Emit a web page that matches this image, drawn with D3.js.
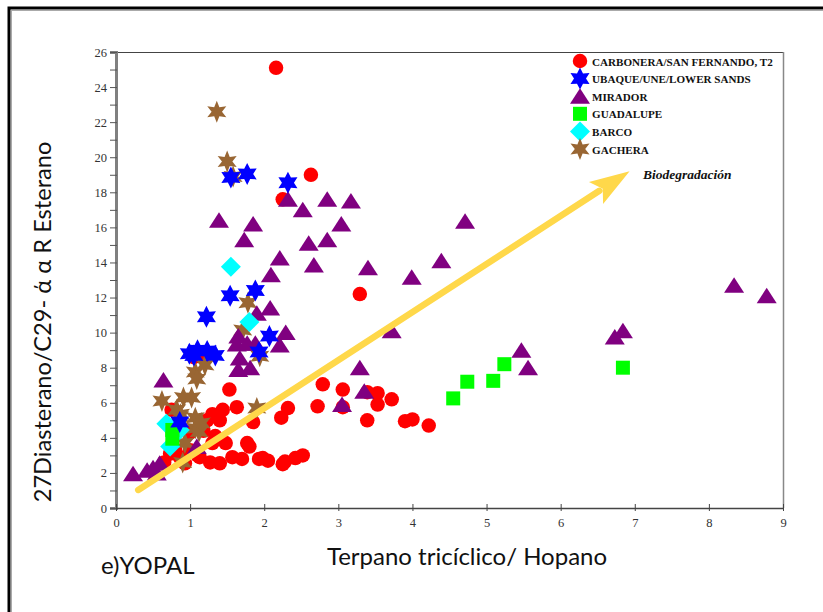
<!DOCTYPE html>
<html>
<head>
<meta charset="utf-8">
<script src="https://cdn.jsdelivr.net/npm/d3@7"></script>
<style>
  html, body { margin: 0; padding: 0; background: #fff; }
  svg { display: block; }
</style>
</head>
<body>
<svg id="chart" width="823" height="612"></svg>
<script>
// Series: [Terpano tricíclico/Hopano, 27Diasterano/C29 ααR Esterano]
const carbonera = [
  [2.16,25.1],[2.63,19.0],[2.25,17.6],[3.29,12.2],[2.79,7.05],[3.06,6.75],[3.39,6.6],[3.53,6.55],
  [2.72,5.8],[3.06,5.75],[3.53,5.9],[3.72,6.2],[3.39,5.0],[3.90,4.95],[4.00,5.05],[4.22,4.7],
  [2.52,3.0],[1.53,6.75],[1.63,5.75],[1.44,5.6],[1.30,5.35],[1.40,5.0],[1.23,5.0],[1.85,4.9],
  [2.32,5.7],[2.23,5.15],[1.16,4.75],[1.18,4.4],[1.34,4.1],[1.34,3.9],[1.48,3.7],[1.77,3.7],
  [1.80,3.5],[1.30,3.7],[0.73,3.1],[0.86,2.9],[1.13,2.9],[1.27,2.6],[1.40,2.55],[1.57,2.9],
  [1.70,2.8],[1.98,2.85],[2.05,2.7],[2.28,2.65],[2.42,2.85],[1.93,2.8],[1.05,8.6],[1.17,8.6],
  [0.75,5.6],[1.00,3.3],[0.93,2.55],[1.00,4.3],[1.10,3.0],[0.80,3.3],[2.25,2.5],[0.65,2.6]
];
const ubaque = [
  [1.55,18.85],[1.77,19.05],[2.32,18.55],[1.54,12.1],[1.88,12.4],[1.22,10.9],[2.07,9.8],
  [1.93,8.9],[0.99,8.8],[1.10,9.0],[1.23,8.95],[1.34,8.7],[1.05,8.7],[0.86,4.9]
];
const mirador = [
  [0.23,1.95],[0.42,2.15],[0.50,2.3],[0.59,2.55],[0.55,2.0],[0.64,7.3],[1.09,3.5],[1.39,16.4],
  [1.85,16.2],[1.73,15.3],[2.32,17.6],[2.52,17.0],[2.85,17.6],[3.17,17.5],[3.04,16.2],[4.71,16.35],
  [2.60,15.1],[2.85,15.3],[2.21,14.25],[2.67,13.85],[2.09,13.3],[3.40,13.7],[3.99,13.15],[4.39,14.1],
  [2.08,11.4],[1.90,11.1],[2.29,10.0],[3.72,10.1],[2.21,9.3],[1.65,9.8],[1.63,9.35],[1.77,9.4],
  [1.88,9.4],[1.67,8.55],[1.65,7.9],[1.81,8.0],[3.29,8.0],[3.35,6.65],[3.05,5.9],[5.47,9.0],
  [5.56,8.0],[8.34,12.7],[8.78,12.1],[6.84,10.1],[6.73,9.75]
];
const guadalupe = [
  [4.55,6.25],[4.74,7.2],[5.09,7.25],[5.24,8.2],[6.84,8.0],[0.76,4.45],[0.76,3.95]
];
const barco = [
  [1.55,13.75],[1.80,10.6],[0.68,4.8],[0.86,4.45],[0.73,3.5]
];
const gachera = [
  [1.36,22.6],[1.50,19.75],[1.58,18.9],[1.78,11.7],[1.71,10.15],[1.94,8.65],[1.07,7.75],[1.09,7.35],
  [1.20,8.15],[0.62,6.1],[0.91,6.3],[1.02,6.3],[0.82,5.6],[0.86,5.2],[1.07,5.15],[1.07,4.55],
  [1.12,4.35],[0.93,3.7],[0.90,2.6],[1.90,5.7],[0.87,5.35],[1.15,4.85]
];

const legendNames = ["CARBONERA/SAN FERNANDO, T2","UBAQUE/UNE/LOWER SANDS","MIRADOR","GUADALUPE","BARCO","GACHERA"];
const xTicks = [0,1,2,3,4,5,6,7,8,9];
const yTicks = [0,2,4,6,8,10,12,14,16,18,20,22,24,26];
// Trend arrow, in axis units: from start to tip
const arrowFrom = [0.30, 1.03];
const arrowTo = [6.93, 19.2];

const svg = d3.select("#chart");
const W = 823, H = 612;
const plot = {left: 116, right: 783, top: 52, bottom: 508};

const x = d3.scaleLinear().domain([0, 9]).range([plot.left, plot.right]);
const y = d3.scaleLinear().domain([0, 26]).range([plot.bottom, plot.top]);

svg.append("rect").attr("width", W).attr("height", H).attr("fill", "#fff");
// outer frame
svg.append("rect").attr("x", 9).attr("y", 8).attr("width", 840).attr("height", 640)
  .attr("fill", "none").attr("stroke", "#000").attr("stroke-width", 3);
svg.append("rect").attr("x", 11.5).attr("y", 10.5).attr("width", 840).attr("height", 640)
  .attr("fill", "none").attr("stroke", "#aaa").attr("stroke-width", 1);

// plot box: top and right edges
svg.append("line").attr("x1", plot.left).attr("x2", plot.right).attr("y1", plot.top + 0.5).attr("y2", plot.top + 0.5)
  .attr("stroke", "#444").attr("stroke-width", 1.2);
svg.append("line").attr("x1", plot.right + 0.5).attr("x2", plot.right + 0.5).attr("y1", plot.top).attr("y2", plot.bottom)
  .attr("stroke", "#888").attr("stroke-width", 1.5);

// axes
const tickFont = "'Liberation Serif', 'DejaVu Serif', serif";
const yAxis = d3.axisLeft(y).tickValues(d3.range(0, 27, 1)).tickSize(6)
  .tickFormat(d => yTicks.includes(d) ? d : "");
const gy = svg.append("g").attr("transform", `translate(${plot.left},0)`).call(yAxis);
gy.select(".domain").attr("stroke", "#808080").attr("stroke-width", 3);
gy.selectAll(".tick line").attr("stroke", "#555").attr("x2", -6).attr("x1", 1);
gy.selectAll(".tick text").attr("font-family", tickFont).attr("font-size", 12.5)
  .attr("fill", "#333").attr("x", -9);

const xAxis = d3.axisBottom(x).tickValues(xTicks).tickSize(0).tickPadding(10);
const gx = svg.append("g").attr("transform", `translate(0,${plot.bottom})`).call(xAxis);
gx.select(".domain").attr("stroke", "#444").attr("stroke-width", 1.3);
gx.selectAll(".tick").append("line").attr("y1", -4).attr("y2", 3).attr("stroke", "#444");
gx.selectAll(".tick text").attr("font-family", tickFont).attr("font-size", 12.5).attr("fill", "#333");

// marker shapes
function starPath(r, ri) {
  const pts = [];
  for (let i = 0; i < 12; i++) {
    const a = -Math.PI / 2 + i * Math.PI / 6;
    const rr = i % 2 === 0 ? r : ri;
    pts.push([rr * Math.cos(a), rr * Math.sin(a)]);
  }
  return "M" + pts.map(p => p.join(",")).join("L") + "Z";
}
const shapes = {
  circle: () => d3.symbol(d3.symbolCircle, 165)(),
  star: () => starPath(11, 6),
  brownStar: () => starPath(11, 5.2),
  triangle: () => "M0,-8L10,7.5L-10,7.5Z",
  square: () => "M-7,-7H7V7H-7Z",
  diamond: () => "M0,-10L10,0L0,10L-10,0Z"
};

const series = [
  {data: carbonera, color: "#ff0000", shape: "circle"},
  {data: ubaque, color: "#0000ff", shape: "star"},
  {data: mirador, color: "#800080", shape: "triangle"},
  {data: guadalupe, color: "#00ff00", shape: "square"},
  {data: barco, color: "#00ffff", shape: "diamond"},
  {data: gachera, color: "#996633", shape: "brownStar"}
];
const drawOrder = [0, 5, 2, 4, 3, 1];

drawOrder.forEach(i => {
  const s = series[i];
  svg.append("g").selectAll("path").data(s.data).join("path")
    .attr("d", shapes[s.shape]())
    .attr("transform", d => `translate(${x(d[0])},${y(d[1])})`)
    .attr("fill", s.color);
});

// biodegradation arrow
const ax0 = x(arrowFrom[0]), ay0 = y(arrowFrom[1]);
const ax1 = x(arrowTo[0]), ay1 = y(arrowTo[1]);
const len = Math.hypot(ax1 - ax0, ay1 - ay0);
const ux = (ax1 - ax0) / len, uy = (ay1 - ay0) / len;
const headLen = 40, headHalf = 13;
const bx = ax1 - ux * headLen, by = ay1 - uy * headLen;
const arrowColor = "#ffd84a";
svg.append("line").attr("x1", ax0).attr("y1", ay0).attr("x2", bx + ux * 4).attr("y2", by + uy * 4)
  .attr("stroke", arrowColor).attr("stroke-width", 6.5).attr("stroke-linecap", "round");
svg.append("path")
  .attr("d", `M${ax1},${ay1}L${bx - uy * headHalf},${by + ux * headHalf}L${bx + ux * 8},${by + uy * 8}L${bx + uy * headHalf},${by - ux * headHalf}Z`)
  .attr("fill", arrowColor);
svg.append("text").attr("x", 643).attr("y", 179)
  .attr("font-family", tickFont).attr("font-size", 13.5).attr("font-weight", "bold").attr("font-style", "italic")
  .attr("fill", "#111").text("Biodegradación");

// legend
const legend = svg.append("g");
const legendShapes = ["circle", "star", "triangle", "square", "diamond", "brownStar"];
legendNames.forEach((name, i) => {
  const ly = 61 + i * 17.6;
  const s = series[i];
  legend.append("path").attr("d", shapes[legendShapes[i]]())
    .attr("transform", `translate(580,${ly})`).attr("fill", s.color);
  legend.append("text").attr("x", 592).attr("y", ly + 4.5)
    .attr("font-family", tickFont).attr("font-size", 11.1).attr("font-weight", "bold")
    .attr("fill", "#111").text(name);
});

// axis titles
const titleFont = "Lato, 'Open Sans', sans-serif";
svg.append("text").attr("x", 467).attr("y", 565).attr("text-anchor", "middle")
  .attr("font-family", titleFont).attr("font-size", 24).attr("fill", "#111")
  .text("Terpano tricíclico/ Hopano");
svg.append("text").attr("transform", "translate(51,322) rotate(-90)").attr("text-anchor", "middle")
  .attr("font-family", titleFont).attr("font-size", 23.6).attr("fill", "#111")
  .text("27Diasterano/C29- ά α R Esterano");
svg.append("text").attr("x", 101).attr("y", 574)
  .attr("font-family", titleFont).attr("font-size", 24).attr("fill", "#111")
  .text("e)YOPAL");
</script>
</body>
</html>
